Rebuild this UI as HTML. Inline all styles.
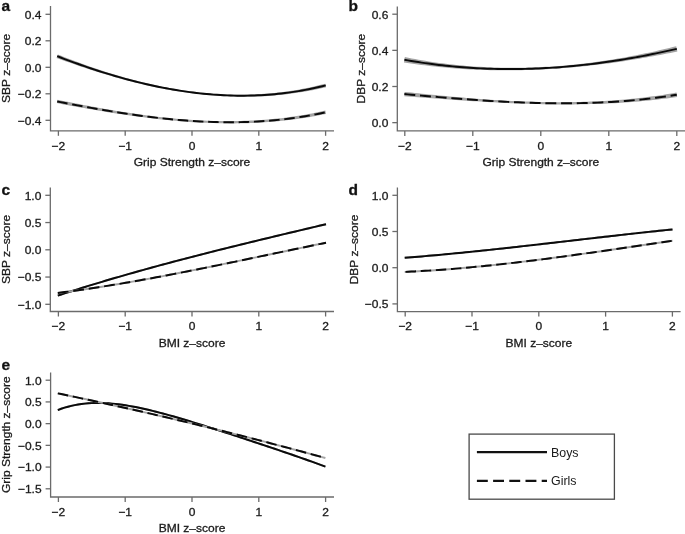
<!DOCTYPE html>
<html><head><meta charset="utf-8"><style>
html,body{margin:0;padding:0;background:#fff;}
body{width:685px;height:534px;overflow:hidden;}
svg{display:block;filter:blur(0.3px);}
text{font-family:"Liberation Sans", sans-serif;stroke:#1a1a1a;stroke-width:0.3px;}
</style></head><body>
<svg width="685" height="534" viewBox="0 0 685 534">
<path d="M50.50,6.00 V130.80 H334.00" fill="none" stroke="#6b6b6b" stroke-width="1.3"/>
<line x1="45.50" y1="14.30" x2="50.50" y2="14.30" stroke="#6b6b6b" stroke-width="1.3"/>
<text x="0" y="0" font-size="11.40" text-anchor="end" font-weight="normal" fill="#1a1a1a" transform="translate(41.50 18.70) scale(1.0526 1)">0.4</text>
<line x1="45.50" y1="40.80" x2="50.50" y2="40.80" stroke="#6b6b6b" stroke-width="1.3"/>
<text x="0" y="0" font-size="11.40" text-anchor="end" font-weight="normal" fill="#1a1a1a" transform="translate(41.50 45.20) scale(1.0526 1)">0.2</text>
<line x1="45.50" y1="67.30" x2="50.50" y2="67.30" stroke="#6b6b6b" stroke-width="1.3"/>
<text x="0" y="0" font-size="11.40" text-anchor="end" font-weight="normal" fill="#1a1a1a" transform="translate(41.50 71.70) scale(1.0526 1)">0.0</text>
<line x1="45.50" y1="93.80" x2="50.50" y2="93.80" stroke="#6b6b6b" stroke-width="1.3"/>
<text x="0" y="0" font-size="11.40" text-anchor="end" font-weight="normal" fill="#1a1a1a" transform="translate(41.50 98.20) scale(1.0526 1)">−0.2</text>
<line x1="45.50" y1="120.30" x2="50.50" y2="120.30" stroke="#6b6b6b" stroke-width="1.3"/>
<text x="0" y="0" font-size="11.40" text-anchor="end" font-weight="normal" fill="#1a1a1a" transform="translate(41.50 124.70) scale(1.0526 1)">−0.4</text>
<line x1="58.40" y1="130.80" x2="58.40" y2="135.80" stroke="#6b6b6b" stroke-width="1.3"/>
<text x="0" y="0" font-size="11.40" text-anchor="middle" font-weight="normal" fill="#1a1a1a" transform="translate(58.40 149.60) scale(1.0526 1)">−2</text>
<line x1="125.20" y1="130.80" x2="125.20" y2="135.80" stroke="#6b6b6b" stroke-width="1.3"/>
<text x="0" y="0" font-size="11.40" text-anchor="middle" font-weight="normal" fill="#1a1a1a" transform="translate(125.20 149.60) scale(1.0526 1)">−1</text>
<line x1="192.00" y1="130.80" x2="192.00" y2="135.80" stroke="#6b6b6b" stroke-width="1.3"/>
<text x="0" y="0" font-size="11.40" text-anchor="middle" font-weight="normal" fill="#1a1a1a" transform="translate(192.00 149.60) scale(1.0526 1)">0</text>
<line x1="258.80" y1="130.80" x2="258.80" y2="135.80" stroke="#6b6b6b" stroke-width="1.3"/>
<text x="0" y="0" font-size="11.40" text-anchor="middle" font-weight="normal" fill="#1a1a1a" transform="translate(258.80 149.60) scale(1.0526 1)">1</text>
<line x1="325.60" y1="130.80" x2="325.60" y2="135.80" stroke="#6b6b6b" stroke-width="1.3"/>
<text x="0" y="0" font-size="11.40" text-anchor="middle" font-weight="normal" fill="#1a1a1a" transform="translate(325.60 149.60) scale(1.0526 1)">2</text>
<text x="0" y="0" font-size="11.40" text-anchor="middle" font-weight="normal" fill="#1a1a1a" transform="translate(192.00 165.80) scale(1.0526 1)">Grip Strength z–score</text>
<text x="0" y="0" font-size="11.40" text-anchor="middle" font-weight="normal" fill="#1a1a1a" transform="translate(10.30 68.40) rotate(-90) scale(1.0526 1)">SBP z–score</text>
<text x="0" y="0" font-size="14.73" text-anchor="start" font-weight="bold" fill="#111" transform="translate(1.50 10.70) scale(1.0526 1)">a</text>
<path d="M397.30,6.40 V130.90 H690.00" fill="none" stroke="#6b6b6b" stroke-width="1.3"/>
<line x1="392.30" y1="14.20" x2="397.30" y2="14.20" stroke="#6b6b6b" stroke-width="1.3"/>
<text x="0" y="0" font-size="11.40" text-anchor="end" font-weight="normal" fill="#1a1a1a" transform="translate(388.30 18.60) scale(1.0526 1)">0.6</text>
<line x1="392.30" y1="50.35" x2="397.30" y2="50.35" stroke="#6b6b6b" stroke-width="1.3"/>
<text x="0" y="0" font-size="11.40" text-anchor="end" font-weight="normal" fill="#1a1a1a" transform="translate(388.30 54.75) scale(1.0526 1)">0.4</text>
<line x1="392.30" y1="86.50" x2="397.30" y2="86.50" stroke="#6b6b6b" stroke-width="1.3"/>
<text x="0" y="0" font-size="11.40" text-anchor="end" font-weight="normal" fill="#1a1a1a" transform="translate(388.30 90.90) scale(1.0526 1)">0.2</text>
<line x1="392.30" y1="122.65" x2="397.30" y2="122.65" stroke="#6b6b6b" stroke-width="1.3"/>
<text x="0" y="0" font-size="11.40" text-anchor="end" font-weight="normal" fill="#1a1a1a" transform="translate(388.30 127.05) scale(1.0526 1)">0.0</text>
<line x1="404.80" y1="130.90" x2="404.80" y2="135.90" stroke="#6b6b6b" stroke-width="1.3"/>
<text x="0" y="0" font-size="11.40" text-anchor="middle" font-weight="normal" fill="#1a1a1a" transform="translate(404.80 149.70) scale(1.0526 1)">−2</text>
<line x1="472.80" y1="130.90" x2="472.80" y2="135.90" stroke="#6b6b6b" stroke-width="1.3"/>
<text x="0" y="0" font-size="11.40" text-anchor="middle" font-weight="normal" fill="#1a1a1a" transform="translate(472.80 149.70) scale(1.0526 1)">−1</text>
<line x1="540.80" y1="130.90" x2="540.80" y2="135.90" stroke="#6b6b6b" stroke-width="1.3"/>
<text x="0" y="0" font-size="11.40" text-anchor="middle" font-weight="normal" fill="#1a1a1a" transform="translate(540.80 149.70) scale(1.0526 1)">0</text>
<line x1="608.80" y1="130.90" x2="608.80" y2="135.90" stroke="#6b6b6b" stroke-width="1.3"/>
<text x="0" y="0" font-size="11.40" text-anchor="middle" font-weight="normal" fill="#1a1a1a" transform="translate(608.80 149.70) scale(1.0526 1)">1</text>
<line x1="676.80" y1="130.90" x2="676.80" y2="135.90" stroke="#6b6b6b" stroke-width="1.3"/>
<text x="0" y="0" font-size="11.40" text-anchor="middle" font-weight="normal" fill="#1a1a1a" transform="translate(676.80 149.70) scale(1.0526 1)">2</text>
<text x="0" y="0" font-size="11.40" text-anchor="middle" font-weight="normal" fill="#1a1a1a" transform="translate(540.80 165.90) scale(1.0526 1)">Grip Strength z–score</text>
<text x="0" y="0" font-size="11.40" text-anchor="middle" font-weight="normal" fill="#1a1a1a" transform="translate(364.50 68.65) rotate(-90) scale(1.0526 1)">DBP z–score</text>
<text x="0" y="0" font-size="14.73" text-anchor="start" font-weight="bold" fill="#111" transform="translate(348.50 10.70) scale(1.0526 1)">b</text>
<path d="M50.30,187.40 V311.50 H334.00" fill="none" stroke="#6b6b6b" stroke-width="1.3"/>
<line x1="45.30" y1="195.30" x2="50.30" y2="195.30" stroke="#6b6b6b" stroke-width="1.3"/>
<text x="0" y="0" font-size="11.40" text-anchor="end" font-weight="normal" fill="#1a1a1a" transform="translate(41.30 199.70) scale(1.0526 1)">1.0</text>
<line x1="45.30" y1="222.55" x2="50.30" y2="222.55" stroke="#6b6b6b" stroke-width="1.3"/>
<text x="0" y="0" font-size="11.40" text-anchor="end" font-weight="normal" fill="#1a1a1a" transform="translate(41.30 226.95) scale(1.0526 1)">0.5</text>
<line x1="45.30" y1="249.80" x2="50.30" y2="249.80" stroke="#6b6b6b" stroke-width="1.3"/>
<text x="0" y="0" font-size="11.40" text-anchor="end" font-weight="normal" fill="#1a1a1a" transform="translate(41.30 254.20) scale(1.0526 1)">0.0</text>
<line x1="45.30" y1="277.05" x2="50.30" y2="277.05" stroke="#6b6b6b" stroke-width="1.3"/>
<text x="0" y="0" font-size="11.40" text-anchor="end" font-weight="normal" fill="#1a1a1a" transform="translate(41.30 281.45) scale(1.0526 1)">−0.5</text>
<line x1="45.30" y1="304.30" x2="50.30" y2="304.30" stroke="#6b6b6b" stroke-width="1.3"/>
<text x="0" y="0" font-size="11.40" text-anchor="end" font-weight="normal" fill="#1a1a1a" transform="translate(41.30 308.70) scale(1.0526 1)">−1.0</text>
<line x1="58.40" y1="311.50" x2="58.40" y2="316.50" stroke="#6b6b6b" stroke-width="1.3"/>
<text x="0" y="0" font-size="11.40" text-anchor="middle" font-weight="normal" fill="#1a1a1a" transform="translate(58.40 330.30) scale(1.0526 1)">−2</text>
<line x1="125.20" y1="311.50" x2="125.20" y2="316.50" stroke="#6b6b6b" stroke-width="1.3"/>
<text x="0" y="0" font-size="11.40" text-anchor="middle" font-weight="normal" fill="#1a1a1a" transform="translate(125.20 330.30) scale(1.0526 1)">−1</text>
<line x1="192.00" y1="311.50" x2="192.00" y2="316.50" stroke="#6b6b6b" stroke-width="1.3"/>
<text x="0" y="0" font-size="11.40" text-anchor="middle" font-weight="normal" fill="#1a1a1a" transform="translate(192.00 330.30) scale(1.0526 1)">0</text>
<line x1="258.80" y1="311.50" x2="258.80" y2="316.50" stroke="#6b6b6b" stroke-width="1.3"/>
<text x="0" y="0" font-size="11.40" text-anchor="middle" font-weight="normal" fill="#1a1a1a" transform="translate(258.80 330.30) scale(1.0526 1)">1</text>
<line x1="325.60" y1="311.50" x2="325.60" y2="316.50" stroke="#6b6b6b" stroke-width="1.3"/>
<text x="0" y="0" font-size="11.40" text-anchor="middle" font-weight="normal" fill="#1a1a1a" transform="translate(325.60 330.30) scale(1.0526 1)">2</text>
<text x="0" y="0" font-size="11.40" text-anchor="middle" font-weight="normal" fill="#1a1a1a" transform="translate(192.00 346.50) scale(1.0526 1)">BMI z–score</text>
<text x="0" y="0" font-size="11.40" text-anchor="middle" font-weight="normal" fill="#1a1a1a" transform="translate(10.30 249.45) rotate(-90) scale(1.0526 1)">SBP z–score</text>
<text x="0" y="0" font-size="14.73" text-anchor="start" font-weight="bold" fill="#111" transform="translate(1.50 194.50) scale(1.0526 1)">c</text>
<path d="M397.40,187.40 V311.60 H680.60" fill="none" stroke="#6b6b6b" stroke-width="1.3"/>
<line x1="392.40" y1="195.30" x2="397.40" y2="195.30" stroke="#6b6b6b" stroke-width="1.3"/>
<text x="0" y="0" font-size="11.40" text-anchor="end" font-weight="normal" fill="#1a1a1a" transform="translate(388.40 199.70) scale(1.0526 1)">1.0</text>
<line x1="392.40" y1="231.50" x2="397.40" y2="231.50" stroke="#6b6b6b" stroke-width="1.3"/>
<text x="0" y="0" font-size="11.40" text-anchor="end" font-weight="normal" fill="#1a1a1a" transform="translate(388.40 235.90) scale(1.0526 1)">0.5</text>
<line x1="392.40" y1="267.70" x2="397.40" y2="267.70" stroke="#6b6b6b" stroke-width="1.3"/>
<text x="0" y="0" font-size="11.40" text-anchor="end" font-weight="normal" fill="#1a1a1a" transform="translate(388.40 272.10) scale(1.0526 1)">0.0</text>
<line x1="392.40" y1="303.90" x2="397.40" y2="303.90" stroke="#6b6b6b" stroke-width="1.3"/>
<text x="0" y="0" font-size="11.40" text-anchor="end" font-weight="normal" fill="#1a1a1a" transform="translate(388.40 308.30) scale(1.0526 1)">−0.5</text>
<line x1="405.20" y1="311.60" x2="405.20" y2="316.60" stroke="#6b6b6b" stroke-width="1.3"/>
<text x="0" y="0" font-size="11.40" text-anchor="middle" font-weight="normal" fill="#1a1a1a" transform="translate(405.20 330.40) scale(1.0526 1)">−2</text>
<line x1="472.00" y1="311.60" x2="472.00" y2="316.60" stroke="#6b6b6b" stroke-width="1.3"/>
<text x="0" y="0" font-size="11.40" text-anchor="middle" font-weight="normal" fill="#1a1a1a" transform="translate(472.00 330.40) scale(1.0526 1)">−1</text>
<line x1="538.80" y1="311.60" x2="538.80" y2="316.60" stroke="#6b6b6b" stroke-width="1.3"/>
<text x="0" y="0" font-size="11.40" text-anchor="middle" font-weight="normal" fill="#1a1a1a" transform="translate(538.80 330.40) scale(1.0526 1)">0</text>
<line x1="605.60" y1="311.60" x2="605.60" y2="316.60" stroke="#6b6b6b" stroke-width="1.3"/>
<text x="0" y="0" font-size="11.40" text-anchor="middle" font-weight="normal" fill="#1a1a1a" transform="translate(605.60 330.40) scale(1.0526 1)">1</text>
<line x1="672.40" y1="311.60" x2="672.40" y2="316.60" stroke="#6b6b6b" stroke-width="1.3"/>
<text x="0" y="0" font-size="11.40" text-anchor="middle" font-weight="normal" fill="#1a1a1a" transform="translate(672.40 330.40) scale(1.0526 1)">2</text>
<text x="0" y="0" font-size="11.40" text-anchor="middle" font-weight="normal" fill="#1a1a1a" transform="translate(538.80 346.60) scale(1.0526 1)">BMI z–score</text>
<text x="0" y="0" font-size="11.40" text-anchor="middle" font-weight="normal" fill="#1a1a1a" transform="translate(358.40 249.50) rotate(-90) scale(1.0526 1)">DBP z–score</text>
<text x="0" y="0" font-size="14.73" text-anchor="start" font-weight="bold" fill="#111" transform="translate(348.50 194.50) scale(1.0526 1)">d</text>
<path d="M50.60,372.40 V497.00 H334.00" fill="none" stroke="#6b6b6b" stroke-width="1.3"/>
<line x1="45.60" y1="380.20" x2="50.60" y2="380.20" stroke="#6b6b6b" stroke-width="1.3"/>
<text x="0" y="0" font-size="11.40" text-anchor="end" font-weight="normal" fill="#1a1a1a" transform="translate(41.60 384.60) scale(1.0526 1)">1.0</text>
<line x1="45.60" y1="401.92" x2="50.60" y2="401.92" stroke="#6b6b6b" stroke-width="1.3"/>
<text x="0" y="0" font-size="11.40" text-anchor="end" font-weight="normal" fill="#1a1a1a" transform="translate(41.60 406.32) scale(1.0526 1)">0.5</text>
<line x1="45.60" y1="423.64" x2="50.60" y2="423.64" stroke="#6b6b6b" stroke-width="1.3"/>
<text x="0" y="0" font-size="11.40" text-anchor="end" font-weight="normal" fill="#1a1a1a" transform="translate(41.60 428.04) scale(1.0526 1)">0.0</text>
<line x1="45.60" y1="445.36" x2="50.60" y2="445.36" stroke="#6b6b6b" stroke-width="1.3"/>
<text x="0" y="0" font-size="11.40" text-anchor="end" font-weight="normal" fill="#1a1a1a" transform="translate(41.60 449.76) scale(1.0526 1)">−0.5</text>
<line x1="45.60" y1="467.08" x2="50.60" y2="467.08" stroke="#6b6b6b" stroke-width="1.3"/>
<text x="0" y="0" font-size="11.40" text-anchor="end" font-weight="normal" fill="#1a1a1a" transform="translate(41.60 471.48) scale(1.0526 1)">−1.0</text>
<line x1="45.60" y1="488.80" x2="50.60" y2="488.80" stroke="#6b6b6b" stroke-width="1.3"/>
<text x="0" y="0" font-size="11.40" text-anchor="end" font-weight="normal" fill="#1a1a1a" transform="translate(41.60 493.20) scale(1.0526 1)">−1.5</text>
<line x1="58.40" y1="497.00" x2="58.40" y2="502.00" stroke="#6b6b6b" stroke-width="1.3"/>
<text x="0" y="0" font-size="11.40" text-anchor="middle" font-weight="normal" fill="#1a1a1a" transform="translate(58.40 515.80) scale(1.0526 1)">−2</text>
<line x1="125.20" y1="497.00" x2="125.20" y2="502.00" stroke="#6b6b6b" stroke-width="1.3"/>
<text x="0" y="0" font-size="11.40" text-anchor="middle" font-weight="normal" fill="#1a1a1a" transform="translate(125.20 515.80) scale(1.0526 1)">−1</text>
<line x1="192.00" y1="497.00" x2="192.00" y2="502.00" stroke="#6b6b6b" stroke-width="1.3"/>
<text x="0" y="0" font-size="11.40" text-anchor="middle" font-weight="normal" fill="#1a1a1a" transform="translate(192.00 515.80) scale(1.0526 1)">0</text>
<line x1="258.80" y1="497.00" x2="258.80" y2="502.00" stroke="#6b6b6b" stroke-width="1.3"/>
<text x="0" y="0" font-size="11.40" text-anchor="middle" font-weight="normal" fill="#1a1a1a" transform="translate(258.80 515.80) scale(1.0526 1)">1</text>
<line x1="325.60" y1="497.00" x2="325.60" y2="502.00" stroke="#6b6b6b" stroke-width="1.3"/>
<text x="0" y="0" font-size="11.40" text-anchor="middle" font-weight="normal" fill="#1a1a1a" transform="translate(325.60 515.80) scale(1.0526 1)">2</text>
<text x="0" y="0" font-size="11.40" text-anchor="middle" font-weight="normal" fill="#1a1a1a" transform="translate(192.00 532.00) scale(1.0526 1)">BMI z–score</text>
<text x="0" y="0" font-size="11.40" text-anchor="middle" font-weight="normal" fill="#1a1a1a" transform="translate(10.30 434.70) rotate(-90) scale(1.0526 1)">Grip Strength z–score</text>
<text x="0" y="0" font-size="14.73" text-anchor="start" font-weight="bold" fill="#111" transform="translate(1.50 369.90) scale(1.0526 1)">e</text>
<path d="M56.55,57.88 L59.97,59.15 L63.39,60.40 L66.81,61.64 L70.23,62.86 L73.65,64.06 L77.07,65.25 L80.49,66.42 L83.91,67.57 L87.33,68.70 L90.74,69.82 L94.16,70.91 L97.57,71.99 L100.99,73.05 L104.40,74.09 L107.82,75.11 L111.23,76.11 L114.64,77.09 L118.06,78.05 L121.47,78.99 L124.88,79.90 L128.29,80.80 L131.70,81.67 L135.11,82.53 L138.52,83.36 L141.93,84.17 L145.34,84.95 L148.75,85.72 L152.16,86.46 L155.56,87.18 L158.97,87.87 L162.38,88.54 L165.79,89.18 L169.19,89.80 L172.60,90.40 L176.01,90.97 L179.41,91.52 L182.82,92.04 L186.23,92.53 L189.63,93.00 L193.04,93.44 L196.44,93.86 L199.85,94.25 L203.25,94.61 L206.66,94.94 L210.07,95.25 L213.47,95.53 L216.88,95.78 L220.28,96.00 L223.69,96.19 L227.10,96.35 L230.51,96.49 L233.91,96.59 L237.32,96.66 L240.73,96.71 L244.14,96.72 L247.55,96.70 L250.95,96.65 L254.36,96.57 L257.77,96.46 L261.19,96.32 L264.60,96.14 L268.01,95.93 L271.42,95.69 L274.84,95.42 L278.25,95.11 L281.66,94.77 L285.08,94.39 L288.50,93.98 L291.91,93.54 L295.33,93.06 L298.75,92.55 L302.17,92.00 L305.59,91.41 L309.02,90.79 L312.44,90.13 L315.86,89.44 L319.29,88.71 L322.72,87.94 L326.13,87.14 L325.27,83.64 L321.89,84.53 L318.52,85.37 L315.14,86.18 L311.77,86.95 L308.40,87.68 L305.02,88.37 L301.65,89.03 L298.27,89.64 L294.89,90.22 L291.51,90.77 L288.13,91.27 L284.75,91.74 L281.37,92.18 L277.99,92.57 L274.60,92.94 L271.22,93.26 L267.83,93.56 L264.45,93.81 L261.06,94.04 L257.68,94.23 L254.29,94.38 L250.90,94.50 L247.51,94.59 L244.12,94.64 L240.74,94.66 L237.35,94.65 L233.96,94.61 L230.57,94.53 L227.18,94.43 L223.78,94.29 L220.39,94.12 L217.00,93.91 L213.61,93.68 L210.22,93.42 L206.83,93.13 L203.44,92.80 L200.04,92.45 L196.65,92.07 L193.26,91.66 L189.87,91.22 L186.48,90.75 L183.09,90.25 L179.70,89.73 L176.30,89.17 L172.91,88.59 L169.52,87.99 L166.13,87.35 L162.74,86.69 L159.35,86.00 L155.96,85.29 L152.57,84.55 L149.18,83.79 L145.79,83.00 L142.41,82.18 L139.02,81.34 L135.63,80.48 L132.24,79.59 L128.86,78.68 L125.47,77.74 L122.08,76.78 L118.70,75.80 L115.31,74.80 L111.93,73.77 L108.54,72.72 L105.16,71.65 L101.78,70.56 L98.39,69.45 L95.01,68.31 L91.63,67.16 L88.25,65.98 L84.87,64.79 L81.49,63.57 L78.11,62.33 L74.73,61.08 L71.36,59.81 L67.98,58.51 L64.60,57.20 L61.23,55.87 L57.85,54.52Z" fill="#a4a4a4" stroke="none"/>
<path d="M57.20,56.20 L60.60,57.51 L64.00,58.80 L67.40,60.08 L70.79,61.33 L74.19,62.57 L77.59,63.79 L80.99,64.99 L84.39,66.18 L87.79,67.34 L91.19,68.49 L94.59,69.61 L97.98,70.72 L101.38,71.81 L104.78,72.87 L108.18,73.92 L111.58,74.94 L114.98,75.94 L118.38,76.93 L121.78,77.89 L125.17,78.82 L128.57,79.74 L131.97,80.63 L135.37,81.50 L138.77,82.35 L142.17,83.17 L145.57,83.98 L148.97,84.75 L152.36,85.50 L155.76,86.23 L159.16,86.94 L162.56,87.61 L165.96,88.27 L169.36,88.90 L172.76,89.50 L176.16,90.07 L179.55,90.62 L182.95,91.14 L186.35,91.64 L189.75,92.11 L193.15,92.55 L196.55,92.96 L199.95,93.35 L203.35,93.71 L206.74,94.03 L210.14,94.33 L213.54,94.60 L216.94,94.84 L220.34,95.06 L223.74,95.24 L227.14,95.39 L230.54,95.51 L233.93,95.60 L237.33,95.66 L240.73,95.69 L244.13,95.68 L247.53,95.65 L250.93,95.58 L254.33,95.48 L257.73,95.34 L261.12,95.18 L264.52,94.98 L267.92,94.75 L271.32,94.48 L274.72,94.18 L278.12,93.84 L281.52,93.47 L284.92,93.07 L288.31,92.63 L291.71,92.15 L295.11,91.64 L298.51,91.10 L301.91,90.51 L305.31,89.89 L308.71,89.24 L312.11,88.54 L315.50,87.81 L318.90,87.04 L322.30,86.23 L325.70,85.39" fill="none" stroke="#0a0a0a" stroke-width="1.95" stroke-linecap="butt"/>
<path d="M56.87,103.10 L60.28,103.74 L63.68,104.38 L67.09,105.01 L70.50,105.64 L73.90,106.26 L77.31,106.88 L80.72,107.49 L84.12,108.10 L87.53,108.70 L90.93,109.29 L94.34,109.87 L97.75,110.45 L101.15,111.02 L104.56,111.58 L107.96,112.13 L111.37,112.68 L114.77,113.21 L118.18,113.73 L121.58,114.25 L124.99,114.75 L128.39,115.24 L131.80,115.73 L135.20,116.20 L138.61,116.66 L142.01,117.10 L145.42,117.54 L148.82,117.96 L152.23,118.37 L155.63,118.76 L159.04,119.15 L162.44,119.51 L165.84,119.87 L169.25,120.21 L172.65,120.53 L176.06,120.84 L179.46,121.13 L182.87,121.41 L186.27,121.67 L189.67,121.91 L193.08,122.13 L196.48,122.34 L199.89,122.53 L203.29,122.70 L206.70,122.86 L210.10,122.99 L213.51,123.11 L216.91,123.21 L220.32,123.28 L223.73,123.34 L227.13,123.37 L230.54,123.39 L233.94,123.38 L237.35,123.35 L240.76,123.30 L244.16,123.23 L247.57,123.14 L250.98,123.02 L254.39,122.88 L257.80,122.71 L261.20,122.52 L264.61,122.31 L268.02,122.07 L271.43,121.81 L274.84,121.52 L278.25,121.20 L281.67,120.86 L285.08,120.50 L288.49,120.10 L291.90,119.68 L295.32,119.23 L298.73,118.76 L302.15,118.25 L305.56,117.72 L308.98,117.16 L312.39,116.57 L315.81,115.95 L319.23,115.30 L322.65,114.62 L326.06,113.91 L325.34,110.58 L321.95,111.35 L318.58,112.08 L315.20,112.78 L311.82,113.45 L308.44,114.09 L305.05,114.70 L301.67,115.28 L298.29,115.83 L294.91,116.35 L291.52,116.84 L288.14,117.30 L284.75,117.73 L281.37,118.14 L277.98,118.52 L274.59,118.87 L271.21,119.19 L267.82,119.49 L264.43,119.76 L261.04,120.00 L257.66,120.22 L254.27,120.42 L250.88,120.58 L247.49,120.73 L244.10,120.85 L240.71,120.94 L237.32,121.01 L233.92,121.06 L230.53,121.09 L227.14,121.09 L223.75,121.07 L220.36,121.03 L216.97,120.96 L213.57,120.88 L210.18,120.77 L206.79,120.64 L203.40,120.50 L200.00,120.33 L196.61,120.14 L193.22,119.94 L189.83,119.71 L186.43,119.47 L183.04,119.21 L179.65,118.93 L176.25,118.63 L172.86,118.32 L169.47,117.98 L166.07,117.64 L162.68,117.27 L159.29,116.89 L155.90,116.49 L152.50,116.08 L149.11,115.66 L145.72,115.22 L142.32,114.76 L138.93,114.29 L135.54,113.81 L132.15,113.32 L128.75,112.81 L125.36,112.29 L121.97,111.75 L118.58,111.21 L115.18,110.65 L111.79,110.08 L108.40,109.51 L105.01,108.92 L101.62,108.32 L98.22,107.71 L94.83,107.09 L91.44,106.47 L88.05,105.83 L84.66,105.18 L81.27,104.53 L77.88,103.87 L74.48,103.20 L71.09,102.53 L67.70,101.85 L64.31,101.16 L60.92,100.47 L57.53,99.77Z" fill="#a4a4a4" stroke="none"/>
<path d="M57.20,101.43 L60.60,102.10 L64.00,102.77 L67.40,103.43 L70.79,104.09 L74.19,104.73 L77.59,105.38 L80.99,106.01 L84.39,106.64 L87.79,107.26 L91.19,107.88 L94.59,108.48 L97.98,109.08 L101.38,109.67 L104.78,110.25 L108.18,110.82 L111.58,111.38 L114.98,111.93 L118.38,112.47 L121.78,113.00 L125.17,113.52 L128.57,114.03 L131.97,114.52 L135.37,115.00 L138.77,115.47 L142.17,115.93 L145.57,116.38 L148.97,116.81 L152.36,117.23 L155.76,117.63 L159.16,118.02 L162.56,118.39 L165.96,118.75 L169.36,119.09 L172.76,119.42 L176.16,119.73 L179.55,120.03 L182.95,120.31 L186.35,120.57 L189.75,120.81 L193.15,121.04 L196.55,121.24 L199.95,121.43 L203.35,121.60 L206.74,121.75 L210.14,121.88 L213.54,121.99 L216.94,122.08 L220.34,122.15 L223.74,122.20 L227.14,122.23 L230.54,122.24 L233.93,122.22 L237.33,122.18 L240.73,122.12 L244.13,122.04 L247.53,121.93 L250.93,121.80 L254.33,121.65 L257.73,121.47 L261.12,121.26 L264.52,121.03 L267.92,120.78 L271.32,120.50 L274.72,120.19 L278.12,119.86 L281.52,119.50 L284.92,119.12 L288.31,118.70 L291.71,118.26 L295.11,117.79 L298.51,117.29 L301.91,116.77 L305.31,116.21 L308.71,115.63 L312.11,115.01 L315.50,114.37 L318.90,113.69 L322.30,112.98 L325.70,112.25" fill="none" stroke="#0a0a0a" stroke-width="1.95" stroke-linecap="butt" stroke-dasharray="10.5,4.75" stroke-dashoffset="0"/>
<path d="M403.93,62.39 L407.39,62.93 L410.87,63.46 L414.35,63.96 L417.82,64.44 L421.29,64.91 L424.76,65.35 L428.23,65.78 L431.70,66.18 L435.17,66.57 L438.64,66.93 L442.11,67.28 L445.57,67.61 L449.04,67.92 L452.50,68.21 L455.96,68.48 L459.43,68.73 L462.89,68.96 L466.35,69.18 L469.81,69.38 L473.27,69.55 L476.73,69.71 L480.19,69.86 L483.64,69.98 L487.10,70.09 L490.56,70.18 L494.02,70.25 L497.47,70.30 L500.93,70.34 L504.38,70.35 L507.84,70.36 L511.29,70.34 L514.75,70.31 L518.20,70.26 L521.66,70.19 L525.11,70.11 L528.57,70.01 L532.02,69.89 L535.48,69.76 L538.93,69.61 L542.38,69.45 L545.84,69.27 L549.29,69.07 L552.75,68.86 L556.20,68.63 L559.66,68.38 L563.11,68.12 L566.57,67.85 L570.02,67.56 L573.48,67.25 L576.94,66.93 L580.39,66.60 L583.85,66.25 L587.31,65.88 L590.76,65.50 L594.22,65.10 L597.68,64.69 L601.14,64.27 L604.60,63.83 L608.06,63.38 L611.52,62.91 L614.98,62.43 L618.44,61.94 L621.91,61.43 L625.37,60.90 L628.83,60.37 L632.30,59.82 L635.76,59.25 L639.23,58.68 L642.70,58.09 L646.16,57.48 L649.63,56.87 L653.10,56.24 L656.57,55.60 L660.04,54.94 L663.51,54.27 L666.98,53.59 L670.46,52.90 L673.93,52.20 L677.40,51.48 L676.20,46.22 L672.77,47.08 L669.35,47.92 L665.93,48.75 L662.50,49.56 L659.08,50.35 L655.65,51.13 L652.23,51.90 L648.80,52.64 L645.37,53.37 L641.94,54.09 L638.51,54.78 L635.08,55.46 L631.65,56.12 L628.22,56.77 L624.79,57.40 L621.35,58.01 L617.92,58.60 L614.49,59.18 L611.05,59.74 L607.62,60.28 L604.18,60.80 L600.74,61.31 L597.31,61.80 L593.87,62.26 L590.43,62.71 L586.99,63.15 L583.55,63.56 L580.11,63.96 L576.67,64.33 L573.23,64.69 L569.79,65.03 L566.35,65.35 L562.91,65.65 L559.47,65.93 L556.03,66.20 L552.59,66.44 L549.15,66.66 L545.71,66.87 L542.26,67.05 L538.82,67.21 L535.38,67.36 L531.94,67.48 L528.50,67.59 L525.05,67.67 L521.61,67.73 L518.17,67.78 L514.73,67.80 L511.29,67.80 L507.85,67.78 L504.41,67.74 L500.97,67.68 L497.53,67.60 L494.09,67.50 L490.65,67.37 L487.21,67.23 L483.77,67.06 L480.33,66.87 L476.89,66.66 L473.46,66.43 L470.02,66.17 L466.58,65.90 L463.15,65.60 L459.71,65.28 L456.28,64.94 L452.85,64.57 L449.41,64.19 L445.98,63.78 L442.55,63.35 L439.12,62.89 L435.69,62.41 L432.27,61.91 L428.84,61.39 L425.41,60.84 L421.99,60.27 L418.57,59.68 L415.14,59.06 L411.72,58.42 L408.30,57.76 L404.87,57.07Z" fill="#a4a4a4" stroke="none"/>
<path d="M404.40,59.73 L407.85,60.35 L411.30,60.94 L414.74,61.51 L418.19,62.06 L421.64,62.59 L425.09,63.10 L428.54,63.58 L431.98,64.05 L435.43,64.49 L438.88,64.91 L442.33,65.31 L445.78,65.69 L449.23,66.05 L452.67,66.39 L456.12,66.71 L459.57,67.01 L463.02,67.28 L466.47,67.54 L469.91,67.78 L473.36,67.99 L476.81,68.19 L480.26,68.36 L483.71,68.52 L487.15,68.66 L490.60,68.77 L494.05,68.87 L497.50,68.95 L500.95,69.01 L504.39,69.05 L507.84,69.07 L511.29,69.07 L514.74,69.05 L518.19,69.02 L521.64,68.96 L525.08,68.89 L528.53,68.80 L531.98,68.69 L535.43,68.56 L538.88,68.41 L542.32,68.25 L545.77,68.07 L549.22,67.87 L552.67,67.65 L556.12,67.41 L559.56,67.16 L563.01,66.89 L566.46,66.60 L569.91,66.29 L573.36,65.97 L576.81,65.63 L580.25,65.28 L583.70,64.90 L587.15,64.51 L590.60,64.11 L594.05,63.68 L597.49,63.24 L600.94,62.79 L604.39,62.32 L607.84,61.83 L611.29,61.33 L614.73,60.81 L618.18,60.27 L621.63,59.72 L625.08,59.15 L628.53,58.57 L631.97,57.97 L635.42,57.36 L638.87,56.73 L642.32,56.09 L645.77,55.43 L649.22,54.76 L652.66,54.07 L656.11,53.36 L659.56,52.65 L663.01,51.92 L666.46,51.17 L669.90,50.41 L673.35,49.64 L676.80,48.85" fill="none" stroke="#0a0a0a" stroke-width="1.95" stroke-linecap="butt"/>
<path d="M404.20,96.28 L407.66,96.53 L411.11,96.79 L414.56,97.05 L418.02,97.30 L421.47,97.56 L424.92,97.81 L428.38,98.07 L431.83,98.32 L435.28,98.57 L438.74,98.82 L442.19,99.07 L445.64,99.31 L449.10,99.56 L452.55,99.80 L456.00,100.03 L459.46,100.27 L462.91,100.50 L466.36,100.72 L469.81,100.94 L473.27,101.16 L476.72,101.37 L480.17,101.58 L483.62,101.78 L487.07,101.98 L490.53,102.17 L493.98,102.36 L497.43,102.54 L500.88,102.71 L504.33,102.88 L507.79,103.04 L511.24,103.19 L514.69,103.34 L518.14,103.47 L521.59,103.60 L525.04,103.72 L528.50,103.84 L531.95,103.94 L535.40,104.03 L538.85,104.12 L542.30,104.19 L545.75,104.26 L549.21,104.32 L552.66,104.36 L556.11,104.40 L559.56,104.42 L563.01,104.44 L566.47,104.44 L569.92,104.43 L573.37,104.41 L576.82,104.37 L580.28,104.33 L583.73,104.27 L587.18,104.20 L590.64,104.11 L594.09,104.01 L597.55,103.90 L601.00,103.77 L604.46,103.63 L607.91,103.48 L611.37,103.31 L614.83,103.13 L618.28,102.93 L621.74,102.71 L625.20,102.48 L628.66,102.23 L632.12,101.97 L635.58,101.69 L639.04,101.39 L642.50,101.08 L645.96,100.75 L649.42,100.40 L652.89,100.03 L656.35,99.65 L659.82,99.24 L663.28,98.82 L666.75,98.38 L670.22,97.92 L673.68,97.44 L677.15,96.94 L676.45,92.59 L673.02,93.20 L669.59,93.78 L666.16,94.34 L662.73,94.88 L659.30,95.40 L655.87,95.89 L652.44,96.37 L649.01,96.82 L645.57,97.26 L642.14,97.67 L638.70,98.06 L635.27,98.44 L631.83,98.79 L628.40,99.13 L624.96,99.44 L621.52,99.74 L618.08,100.02 L614.64,100.28 L611.20,100.52 L607.76,100.75 L604.32,100.95 L600.88,101.14 L597.44,101.32 L594.00,101.47 L590.56,101.62 L587.11,101.74 L583.67,101.85 L580.23,101.94 L576.79,102.02 L573.34,102.08 L569.90,102.13 L566.46,102.16 L563.01,102.18 L559.57,102.18 L556.12,102.17 L552.68,102.15 L549.24,102.11 L545.79,102.06 L542.35,101.99 L538.90,101.92 L535.46,101.83 L532.01,101.73 L528.57,101.62 L525.12,101.50 L521.68,101.36 L518.23,101.22 L514.79,101.06 L511.34,100.89 L507.90,100.71 L504.46,100.53 L501.01,100.33 L497.57,100.12 L494.12,99.91 L490.68,99.68 L487.23,99.45 L483.79,99.21 L480.35,98.96 L476.90,98.70 L473.46,98.43 L470.01,98.16 L466.57,97.88 L463.13,97.59 L459.68,97.30 L456.24,97.00 L452.80,96.69 L449.35,96.38 L445.91,96.06 L442.47,95.73 L439.02,95.41 L435.58,95.07 L432.14,94.73 L428.70,94.39 L425.25,94.05 L421.81,93.70 L418.37,93.34 L414.93,92.98 L411.48,92.62 L408.04,92.26 L404.60,91.90Z" fill="#a4a4a4" stroke="none"/>
<path d="M404.40,94.09 L407.85,94.40 L411.30,94.71 L414.74,95.02 L418.19,95.32 L421.64,95.63 L425.09,95.93 L428.54,96.23 L431.98,96.53 L435.43,96.82 L438.88,97.11 L442.33,97.40 L445.78,97.69 L449.23,97.97 L452.67,98.24 L456.12,98.51 L459.57,98.78 L463.02,99.04 L466.47,99.30 L469.91,99.55 L473.36,99.80 L476.81,100.04 L480.26,100.27 L483.71,100.50 L487.15,100.72 L490.60,100.93 L494.05,101.13 L497.50,101.33 L500.95,101.52 L504.39,101.70 L507.84,101.88 L511.29,102.04 L514.74,102.20 L518.19,102.34 L521.64,102.48 L525.08,102.61 L528.53,102.73 L531.98,102.84 L535.43,102.93 L538.88,103.02 L542.32,103.09 L545.77,103.16 L549.22,103.21 L552.67,103.25 L556.12,103.28 L559.56,103.30 L563.01,103.31 L566.46,103.30 L569.91,103.28 L573.36,103.24 L576.81,103.19 L580.25,103.13 L583.70,103.06 L587.15,102.97 L590.60,102.86 L594.05,102.74 L597.49,102.61 L600.94,102.46 L604.39,102.29 L607.84,102.11 L611.29,101.92 L614.73,101.70 L618.18,101.47 L621.63,101.22 L625.08,100.96 L628.53,100.68 L631.97,100.38 L635.42,100.06 L638.87,99.73 L642.32,99.37 L645.77,99.00 L649.22,98.61 L652.66,98.20 L656.11,97.77 L659.56,97.32 L663.01,96.85 L666.46,96.36 L669.90,95.85 L673.35,95.32 L676.80,94.77" fill="none" stroke="#0a0a0a" stroke-width="1.95" stroke-linecap="butt" stroke-dasharray="10.9,4.8" stroke-dashoffset="0"/>
<path d="M58.11,296.52 L61.50,295.42 L64.89,294.32 L68.29,293.23 L71.68,292.15 L75.07,291.08 L78.46,290.01 L81.86,288.95 L85.25,287.90 L88.64,286.86 L92.03,285.82 L95.43,284.79 L98.82,283.76 L102.21,282.74 L105.61,281.73 L109.00,280.73 L112.39,279.73 L115.78,278.73 L119.18,277.75 L122.57,276.77 L125.96,275.79 L129.36,274.82 L132.75,273.86 L136.14,272.90 L139.54,271.95 L142.93,271.00 L146.32,270.06 L149.72,269.12 L153.11,268.19 L156.50,267.27 L159.90,266.34 L163.29,265.43 L166.68,264.52 L170.08,263.61 L173.47,262.71 L176.87,261.81 L180.26,260.91 L183.65,260.02 L187.05,259.14 L190.44,258.26 L193.83,257.38 L197.23,256.51 L200.62,255.64 L204.02,254.77 L207.41,253.91 L210.81,253.05 L214.20,252.19 L217.59,251.34 L220.99,250.49 L224.38,249.64 L227.78,248.80 L231.17,247.96 L234.57,247.12 L237.96,246.28 L241.35,245.45 L244.75,244.62 L248.14,243.79 L251.54,242.97 L254.93,242.14 L258.33,241.32 L261.72,240.50 L265.12,239.68 L268.51,238.87 L271.91,238.05 L275.30,237.24 L278.70,236.43 L282.09,235.62 L285.49,234.81 L288.88,234.00 L292.28,233.20 L295.67,232.39 L299.07,231.59 L302.46,230.78 L305.86,229.98 L309.25,229.18 L312.65,228.38 L316.04,227.57 L319.44,226.77 L322.83,225.97 L326.23,225.17 L325.77,223.23 L322.38,224.03 L318.98,224.84 L315.59,225.64 L312.19,226.45 L308.80,227.25 L305.40,228.06 L302.01,228.87 L298.61,229.68 L295.22,230.48 L291.82,231.29 L288.43,232.10 L285.03,232.91 L281.64,233.73 L278.24,234.54 L274.85,235.35 L271.46,236.17 L268.06,236.99 L264.67,237.81 L261.27,238.63 L257.87,239.45 L254.48,240.27 L251.08,241.10 L247.69,241.93 L244.29,242.76 L240.90,243.59 L237.50,244.43 L234.11,245.26 L230.71,246.10 L227.32,246.95 L223.92,247.79 L220.53,248.64 L217.13,249.49 L213.73,250.34 L210.34,251.20 L206.94,252.06 L203.55,252.93 L200.15,253.79 L196.76,254.66 L193.36,255.54 L189.96,256.42 L186.57,257.30 L183.17,258.19 L179.78,259.08 L176.38,259.97 L172.98,260.87 L169.59,261.77 L166.19,262.68 L162.80,263.59 L159.40,264.51 L156.00,265.43 L152.61,266.35 L149.21,267.28 L145.81,268.22 L142.42,269.16 L139.02,270.10 L135.62,271.06 L132.23,272.01 L128.83,272.97 L125.43,273.94 L122.04,274.91 L118.64,275.89 L115.24,276.88 L111.85,277.87 L108.45,278.87 L105.05,279.87 L101.66,280.88 L98.26,281.90 L94.86,282.92 L91.46,283.95 L88.07,284.98 L84.67,286.02 L81.27,287.07 L77.88,288.13 L74.48,289.19 L71.08,290.26 L67.68,291.34 L64.29,292.43 L60.89,293.52 L57.49,294.62Z" fill="#a4a4a4" stroke="none"/>
<path d="M57.80,295.57 L61.19,294.47 L64.59,293.37 L67.98,292.29 L71.38,291.21 L74.77,290.14 L78.17,289.07 L81.56,288.01 L84.96,286.96 L88.35,285.92 L91.75,284.88 L95.14,283.85 L98.54,282.83 L101.93,281.81 L105.33,280.80 L108.72,279.80 L112.12,278.80 L115.51,277.81 L118.91,276.82 L122.30,275.84 L125.70,274.87 L129.09,273.90 L132.49,272.94 L135.88,271.98 L139.28,271.03 L142.67,270.08 L146.07,269.14 L149.46,268.20 L152.86,267.27 L156.25,266.35 L159.65,265.42 L163.04,264.51 L166.44,263.60 L169.83,262.69 L173.23,261.79 L176.62,260.89 L180.02,259.99 L183.41,259.10 L186.81,258.22 L190.20,257.34 L193.60,256.46 L196.99,255.59 L200.39,254.71 L203.78,253.85 L207.18,252.98 L210.57,252.12 L213.97,251.27 L217.36,250.41 L220.76,249.56 L224.15,248.72 L227.55,247.87 L230.94,247.03 L234.34,246.19 L237.73,245.35 L241.13,244.52 L244.52,243.69 L247.92,242.86 L251.31,242.03 L254.71,241.21 L258.10,240.38 L261.50,239.56 L264.89,238.74 L268.29,237.93 L271.68,237.11 L275.08,236.30 L278.47,235.48 L281.87,234.67 L285.26,233.86 L288.66,233.05 L292.05,232.24 L295.45,231.44 L298.84,230.63 L302.24,229.83 L305.63,229.02 L309.03,228.22 L312.42,227.41 L315.82,226.61 L319.21,225.81 L322.61,225.00 L326.00,224.20" fill="none" stroke="#0a0a0a" stroke-width="1.95" stroke-linecap="butt"/>
<path d="M57.93,293.95 L61.32,293.52 L64.72,293.08 L68.12,292.63 L71.51,292.16 L74.91,291.70 L78.31,291.22 L81.70,290.73 L85.10,290.24 L88.50,289.74 L91.89,289.23 L95.29,288.71 L98.69,288.19 L102.09,287.65 L105.48,287.11 L108.88,286.57 L112.27,286.02 L115.67,285.46 L119.07,284.89 L122.46,284.32 L125.86,283.74 L129.26,283.15 L132.65,282.56 L136.05,281.97 L139.45,281.36 L142.84,280.75 L146.24,280.14 L149.63,279.52 L153.03,278.90 L156.43,278.27 L159.82,277.64 L163.22,277.00 L166.62,276.35 L170.01,275.71 L173.41,275.06 L176.80,274.40 L180.20,273.74 L183.60,273.08 L186.99,272.41 L190.39,271.74 L193.78,271.07 L197.18,270.39 L200.57,269.71 L203.97,269.03 L207.37,268.34 L210.76,267.65 L214.16,266.96 L217.55,266.27 L220.95,265.57 L224.34,264.87 L227.74,264.18 L231.14,263.47 L234.53,262.77 L237.93,262.07 L241.32,261.36 L244.72,260.66 L248.11,259.95 L251.51,259.24 L254.90,258.53 L258.30,257.82 L261.69,257.11 L265.09,256.40 L268.48,255.69 L271.88,254.98 L275.27,254.27 L278.67,253.56 L282.07,252.85 L285.46,252.14 L288.86,251.43 L292.25,250.72 L295.65,250.02 L299.04,249.31 L302.44,248.61 L305.83,247.91 L309.23,247.21 L312.62,246.51 L316.02,245.81 L319.41,245.11 L322.80,244.42 L326.20,243.73 L325.80,241.77 L322.41,242.47 L319.01,243.17 L315.62,243.86 L312.22,244.57 L308.83,245.27 L305.43,245.98 L302.04,246.68 L298.64,247.39 L295.25,248.10 L291.85,248.81 L288.46,249.52 L285.06,250.23 L281.67,250.94 L278.27,251.66 L274.88,252.37 L271.48,253.08 L268.09,253.80 L264.69,254.51 L261.30,255.22 L257.90,255.94 L254.51,256.65 L251.11,257.36 L247.72,258.07 L244.33,258.78 L240.93,259.49 L237.54,260.20 L234.14,260.90 L230.75,261.61 L227.35,262.31 L223.96,263.01 L220.57,263.71 L217.17,264.40 L213.78,265.10 L210.38,265.79 L206.99,266.48 L203.59,267.16 L200.20,267.85 L196.81,268.53 L193.41,269.20 L190.02,269.88 L186.62,270.55 L183.23,271.21 L179.84,271.87 L176.44,272.53 L173.05,273.19 L169.65,273.84 L166.26,274.48 L162.87,275.13 L159.47,275.76 L156.08,276.39 L152.69,277.02 L149.29,277.64 L145.90,278.26 L142.50,278.87 L139.11,279.48 L135.72,280.08 L132.32,280.67 L128.93,281.26 L125.54,281.84 L122.14,282.42 L118.75,282.99 L115.36,283.55 L111.96,284.11 L108.57,284.65 L105.18,285.20 L101.78,285.73 L98.39,286.26 L95.00,286.78 L91.60,287.29 L88.21,287.80 L84.82,288.30 L81.42,288.78 L78.03,289.26 L74.64,289.74 L71.25,290.20 L67.85,290.66 L64.46,291.10 L61.07,291.54 L57.67,291.97Z" fill="#a4a4a4" stroke="none"/>
<path d="M57.80,292.96 L61.19,292.53 L64.59,292.09 L67.98,291.64 L71.38,291.18 L74.77,290.72 L78.17,290.24 L81.56,289.76 L84.96,289.27 L88.35,288.77 L91.75,288.26 L95.14,287.75 L98.54,287.22 L101.93,286.69 L105.33,286.16 L108.72,285.61 L112.12,285.06 L115.51,284.50 L118.91,283.94 L122.30,283.37 L125.70,282.79 L129.09,282.21 L132.49,281.62 L135.88,281.02 L139.28,280.42 L142.67,279.81 L146.07,279.20 L149.46,278.58 L152.86,277.96 L156.25,277.33 L159.65,276.70 L163.04,276.06 L166.44,275.42 L169.83,274.77 L173.23,274.12 L176.62,273.47 L180.02,272.81 L183.41,272.14 L186.81,271.48 L190.20,270.81 L193.60,270.13 L196.99,269.46 L200.39,268.78 L203.78,268.09 L207.18,267.41 L210.57,266.72 L213.97,266.03 L217.36,265.33 L220.76,264.64 L224.15,263.94 L227.55,263.24 L230.94,262.54 L234.34,261.84 L237.73,261.13 L241.13,260.43 L244.52,259.72 L247.92,259.01 L251.31,258.30 L254.71,257.59 L258.10,256.88 L261.50,256.17 L264.89,255.46 L268.29,254.74 L271.68,254.03 L275.08,253.32 L278.47,252.61 L281.87,251.90 L285.26,251.19 L288.66,250.48 L292.05,249.77 L295.45,249.06 L298.84,248.35 L302.24,247.65 L305.63,246.94 L309.03,246.24 L312.42,245.54 L315.82,244.84 L319.21,244.14 L322.61,243.44 L326.00,242.75" fill="none" stroke="#0a0a0a" stroke-width="1.95" stroke-linecap="butt" stroke-dasharray="10.8,4.8" stroke-dashoffset="0"/>
<path d="M404.78,258.79 L408.17,258.52 L411.56,258.25 L414.95,257.97 L418.34,257.69 L421.73,257.40 L425.12,257.11 L428.51,256.81 L431.91,256.51 L435.30,256.20 L438.69,255.89 L442.08,255.58 L445.47,255.26 L448.86,254.94 L452.25,254.62 L455.64,254.29 L459.03,253.96 L462.42,253.62 L465.81,253.28 L469.20,252.94 L472.60,252.59 L475.99,252.24 L479.38,251.89 L482.77,251.54 L486.16,251.18 L489.55,250.82 L492.94,250.46 L496.33,250.09 L499.72,249.72 L503.11,249.35 L506.50,248.98 L509.89,248.61 L513.28,248.23 L516.67,247.86 L520.06,247.48 L523.45,247.10 L526.84,246.71 L530.23,246.33 L533.62,245.95 L537.01,245.56 L540.40,245.17 L543.79,244.79 L547.18,244.40 L550.57,244.01 L553.96,243.62 L557.35,243.23 L560.74,242.84 L564.13,242.45 L567.52,242.06 L570.91,241.66 L574.30,241.27 L577.69,240.88 L581.08,240.49 L584.47,240.10 L587.86,239.71 L591.25,239.32 L594.64,238.93 L598.03,238.54 L601.42,238.16 L604.81,237.77 L608.20,237.38 L611.59,237.00 L614.98,236.62 L618.37,236.24 L621.76,235.86 L625.15,235.48 L628.54,235.10 L631.93,234.73 L635.32,234.35 L638.71,233.98 L642.10,233.61 L645.49,233.25 L648.88,232.88 L652.27,232.52 L655.65,232.16 L659.04,231.81 L662.43,231.45 L665.82,231.10 L669.21,230.75 L672.60,230.41 L672.40,228.42 L669.01,228.77 L665.62,229.12 L662.23,229.48 L658.84,229.84 L655.45,230.20 L652.06,230.56 L648.67,230.93 L645.28,231.29 L641.88,231.67 L638.49,232.04 L635.10,232.41 L631.71,232.79 L628.32,233.17 L624.93,233.55 L621.54,233.93 L618.15,234.31 L614.76,234.70 L611.37,235.08 L607.98,235.47 L604.59,235.86 L601.20,236.25 L597.81,236.64 L594.42,237.03 L591.03,237.42 L587.64,237.81 L584.25,238.20 L580.86,238.59 L577.47,238.99 L574.08,239.38 L570.69,239.77 L567.30,240.16 L563.91,240.56 L560.53,240.95 L557.14,241.34 L553.75,241.73 L550.36,242.12 L546.97,242.51 L543.58,242.90 L540.19,243.29 L536.80,243.67 L533.41,244.06 L530.02,244.44 L526.63,244.83 L523.24,245.21 L519.85,245.59 L516.46,245.97 L513.07,246.34 L509.68,246.72 L506.29,247.09 L502.90,247.46 L499.51,247.83 L496.12,248.19 L492.73,248.56 L489.35,248.92 L485.96,249.27 L482.57,249.63 L479.18,249.98 L475.79,250.33 L472.40,250.68 L469.01,251.02 L465.62,251.36 L462.23,251.70 L458.84,252.03 L455.45,252.36 L452.07,252.68 L448.68,253.01 L445.29,253.32 L441.90,253.64 L438.51,253.95 L435.12,254.25 L431.73,254.55 L428.34,254.85 L424.95,255.14 L421.57,255.43 L418.18,255.71 L414.79,255.99 L411.40,256.26 L408.01,256.53 L404.62,256.79Z" fill="#a4a4a4" stroke="none"/>
<path d="M404.70,257.79 L408.09,257.52 L411.48,257.25 L414.87,256.98 L418.26,256.70 L421.65,256.41 L425.04,256.12 L428.43,255.83 L431.82,255.53 L435.21,255.23 L438.60,254.92 L441.99,254.61 L445.38,254.29 L448.77,253.97 L452.16,253.65 L455.55,253.32 L458.94,252.99 L462.33,252.66 L465.72,252.32 L469.11,251.98 L472.50,251.63 L475.89,251.29 L479.28,250.94 L482.67,250.58 L486.06,250.23 L489.45,249.87 L492.84,249.51 L496.23,249.14 L499.62,248.77 L503.01,248.41 L506.40,248.04 L509.79,247.66 L513.18,247.29 L516.57,246.91 L519.96,246.53 L523.35,246.15 L526.74,245.77 L530.13,245.39 L533.52,245.00 L536.91,244.62 L540.29,244.23 L543.68,243.84 L547.07,243.45 L550.46,243.06 L553.85,242.67 L557.24,242.28 L560.63,241.89 L564.02,241.50 L567.41,241.11 L570.80,240.72 L574.19,240.33 L577.58,239.93 L580.97,239.54 L584.36,239.15 L587.75,238.76 L591.14,238.37 L594.53,237.98 L597.92,237.59 L601.31,237.20 L604.70,236.81 L608.09,236.43 L611.48,236.04 L614.87,235.66 L618.26,235.27 L621.65,234.89 L625.04,234.51 L628.43,234.13 L631.82,233.76 L635.21,233.38 L638.60,233.01 L641.99,232.64 L645.38,232.27 L648.77,231.90 L652.16,231.54 L655.55,231.18 L658.94,230.82 L662.33,230.46 L665.72,230.11 L669.11,229.76 L672.50,229.41" fill="none" stroke="#0a0a0a" stroke-width="1.95" stroke-linecap="butt"/>
<path d="M404.74,272.89 L408.14,272.74 L411.53,272.57 L414.92,272.40 L418.31,272.22 L421.71,272.02 L425.10,271.82 L428.49,271.61 L431.88,271.39 L435.28,271.16 L438.67,270.93 L442.06,270.68 L445.45,270.43 L448.84,270.16 L452.24,269.89 L455.63,269.62 L459.02,269.33 L462.41,269.04 L465.80,268.73 L469.20,268.43 L472.59,268.11 L475.98,267.79 L479.37,267.46 L482.76,267.12 L486.15,266.78 L489.55,266.43 L492.94,266.07 L496.33,265.71 L499.72,265.34 L503.11,264.97 L506.50,264.59 L509.89,264.20 L513.29,263.81 L516.68,263.41 L520.07,263.01 L523.46,262.60 L526.85,262.19 L530.24,261.78 L533.63,261.35 L537.02,260.93 L540.42,260.50 L543.81,260.06 L547.20,259.62 L550.59,259.18 L553.98,258.73 L557.37,258.28 L560.76,257.83 L564.15,257.37 L567.54,256.91 L570.93,256.45 L574.32,255.98 L577.72,255.51 L581.11,255.04 L584.50,254.56 L587.89,254.09 L591.28,253.61 L594.67,253.12 L598.06,252.64 L601.45,252.15 L604.84,251.67 L608.23,251.18 L611.62,250.69 L615.01,250.19 L618.40,249.70 L621.79,249.20 L625.18,248.71 L628.57,248.21 L631.96,247.72 L635.35,247.22 L638.74,246.72 L642.13,246.22 L645.52,245.73 L648.91,245.23 L652.30,244.73 L655.69,244.23 L659.08,243.74 L662.47,243.24 L665.86,242.74 L669.25,242.25 L672.64,241.76 L672.36,239.78 L668.97,240.28 L665.58,240.78 L662.19,241.28 L658.80,241.78 L655.41,242.28 L652.02,242.78 L648.63,243.28 L645.24,243.78 L641.85,244.29 L638.46,244.79 L635.07,245.29 L631.68,245.79 L628.29,246.29 L624.90,246.79 L621.51,247.29 L618.12,247.78 L614.73,248.28 L611.34,248.78 L607.95,249.27 L604.56,249.76 L601.18,250.25 L597.79,250.74 L594.40,251.23 L591.01,251.71 L587.62,252.19 L584.23,252.67 L580.84,253.15 L577.45,253.62 L574.06,254.09 L570.67,254.56 L567.29,255.02 L563.90,255.49 L560.51,255.94 L557.12,256.40 L553.73,256.85 L550.34,257.30 L546.95,257.74 L543.56,258.18 L540.17,258.61 L536.79,259.04 L533.40,259.47 L530.01,259.89 L526.62,260.31 L523.23,260.72 L519.84,261.12 L516.45,261.52 L513.07,261.92 L509.68,262.31 L506.29,262.69 L502.90,263.07 L499.51,263.44 L496.12,263.81 L492.74,264.17 L489.35,264.53 L485.96,264.87 L482.57,265.21 L479.18,265.55 L475.80,265.87 L472.41,266.19 L469.02,266.51 L465.63,266.81 L462.24,267.11 L458.86,267.40 L455.47,267.68 L452.08,267.96 L448.69,268.22 L445.31,268.48 L441.92,268.73 L438.53,268.97 L435.14,269.21 L431.75,269.43 L428.37,269.65 L424.98,269.85 L421.59,270.05 L418.21,270.24 L414.82,270.42 L411.43,270.59 L408.04,270.75 L404.66,270.90Z" fill="#a4a4a4" stroke="none"/>
<path d="M404.70,271.89 L408.09,271.74 L411.48,271.58 L414.87,271.41 L418.26,271.23 L421.65,271.04 L425.04,270.84 L428.43,270.63 L431.82,270.41 L435.21,270.19 L438.60,269.95 L441.99,269.71 L445.38,269.45 L448.77,269.19 L452.16,268.93 L455.55,268.65 L458.94,268.37 L462.33,268.07 L465.72,267.77 L469.11,267.47 L472.50,267.15 L475.89,266.83 L479.28,266.50 L482.67,266.17 L486.06,265.83 L489.45,265.48 L492.84,265.12 L496.23,264.76 L499.62,264.39 L503.01,264.02 L506.40,263.64 L509.79,263.26 L513.18,262.87 L516.57,262.47 L519.96,262.07 L523.35,261.66 L526.74,261.25 L530.13,260.83 L533.52,260.41 L536.91,259.99 L540.29,259.56 L543.68,259.12 L547.07,258.68 L550.46,258.24 L553.85,257.79 L557.24,257.34 L560.63,256.89 L564.02,256.43 L567.41,255.97 L570.80,255.50 L574.19,255.04 L577.58,254.57 L580.97,254.09 L584.36,253.62 L587.75,253.14 L591.14,252.66 L594.53,252.17 L597.92,251.69 L601.31,251.20 L604.70,250.71 L608.09,250.22 L611.48,249.73 L614.87,249.24 L618.26,248.74 L621.65,248.25 L625.04,247.75 L628.43,247.25 L631.82,246.75 L635.21,246.25 L638.60,245.75 L641.99,245.25 L645.38,244.75 L648.77,244.25 L652.16,243.76 L655.55,243.26 L658.94,242.76 L662.33,242.26 L665.72,241.76 L669.11,241.26 L672.50,240.77" fill="none" stroke="#0a0a0a" stroke-width="1.95" stroke-linecap="butt" stroke-dasharray="10.45,4.7" stroke-dashoffset="-0.9"/>
<path d="M58.15,410.97 L61.52,409.72 L64.87,408.62 L68.22,407.65 L71.57,406.80 L74.93,406.08 L78.28,405.47 L81.64,404.97 L85.00,404.57 L88.36,404.28 L91.72,404.07 L95.08,403.96 L98.44,403.93 L101.81,403.98 L105.18,404.11 L108.54,404.31 L111.91,404.57 L115.28,404.90 L118.65,405.29 L122.03,405.74 L125.40,406.24 L128.77,406.79 L132.15,407.38 L135.52,408.02 L138.90,408.70 L142.28,409.42 L145.66,410.18 L149.04,410.96 L152.42,411.78 L155.80,412.63 L159.18,413.50 L162.56,414.39 L165.94,415.31 L169.33,416.25 L172.71,417.20 L176.09,418.17 L179.48,419.16 L182.86,420.16 L186.24,421.18 L189.63,422.21 L193.01,423.24 L196.40,424.29 L199.78,425.34 L203.17,426.40 L206.56,427.47 L209.94,428.55 L213.33,429.63 L216.71,430.71 L220.10,431.80 L223.49,432.90 L226.87,433.99 L230.26,435.09 L233.65,436.20 L237.03,437.30 L240.42,438.41 L243.80,439.53 L247.19,440.64 L250.58,441.76 L253.96,442.88 L257.35,444.01 L260.74,445.13 L264.12,446.26 L267.51,447.40 L270.89,448.54 L274.28,449.68 L277.67,450.82 L281.05,451.97 L284.44,453.13 L287.82,454.29 L291.21,455.46 L294.59,456.63 L297.98,457.81 L301.36,459.00 L304.75,460.19 L308.13,461.40 L311.52,462.61 L314.90,463.82 L318.29,465.05 L321.67,466.29 L325.06,467.53 L325.74,465.65 L322.36,464.41 L318.96,463.18 L315.57,461.96 L312.18,460.74 L308.79,459.53 L305.40,458.33 L302.01,457.14 L298.62,455.96 L295.24,454.78 L291.85,453.61 L288.46,452.45 L285.07,451.29 L281.68,450.13 L278.29,448.98 L274.90,447.84 L271.51,446.70 L268.12,445.56 L264.73,444.43 L261.34,443.30 L257.96,442.18 L254.57,441.06 L251.18,439.94 L247.79,438.82 L244.40,437.71 L241.01,436.60 L237.63,435.49 L234.24,434.38 L230.85,433.28 L227.46,432.18 L224.07,431.08 L220.68,429.99 L217.30,428.90 L213.91,427.82 L210.52,426.74 L207.13,425.66 L203.74,424.59 L200.35,423.53 L196.96,422.47 L193.57,421.43 L190.18,420.39 L186.79,419.36 L183.40,418.34 L180.01,417.34 L176.62,416.35 L173.23,415.37 L169.84,414.41 L166.45,413.47 L163.05,412.55 L159.66,411.65 L156.27,410.78 L152.87,409.93 L149.48,409.11 L146.08,408.31 L142.69,407.55 L139.29,406.83 L135.89,406.14 L132.49,405.50 L129.10,404.89 L125.70,404.34 L122.29,403.83 L118.89,403.38 L115.49,402.98 L112.08,402.64 L108.68,402.37 L105.27,402.17 L101.86,402.04 L98.45,401.98 L95.04,402.01 L91.63,402.12 L88.21,402.32 L84.80,402.62 L81.38,403.02 L77.96,403.52 L74.54,404.14 L71.12,404.87 L67.70,405.73 L64.28,406.72 L60.86,407.84 L57.45,409.10Z" fill="#a4a4a4" stroke="none"/>
<path d="M57.80,410.04 L61.19,408.78 L64.57,407.67 L67.96,406.69 L71.35,405.84 L74.74,405.11 L78.12,404.50 L81.51,403.99 L84.90,403.60 L88.29,403.30 L91.67,403.10 L95.06,402.98 L98.45,402.96 L101.84,403.01 L105.22,403.14 L108.61,403.34 L112.00,403.61 L115.38,403.94 L118.77,404.33 L122.16,404.78 L125.55,405.29 L128.93,405.84 L132.32,406.44 L135.71,407.08 L139.10,407.77 L142.48,408.49 L145.87,409.25 L149.26,410.03 L152.65,410.85 L156.03,411.70 L159.42,412.57 L162.81,413.47 L166.19,414.39 L169.58,415.33 L172.97,416.29 L176.36,417.26 L179.74,418.25 L183.13,419.25 L186.52,420.27 L189.91,421.30 L193.29,422.33 L196.68,423.38 L200.07,424.44 L203.46,425.50 L206.84,426.57 L210.23,427.64 L213.62,428.72 L217.01,429.81 L220.39,430.90 L223.78,431.99 L227.17,433.09 L230.55,434.19 L233.94,435.29 L237.33,436.40 L240.72,437.51 L244.10,438.62 L247.49,439.73 L250.88,440.85 L254.27,441.97 L257.65,443.09 L261.04,444.22 L264.43,445.35 L267.82,446.48 L271.20,447.62 L274.59,448.76 L277.98,449.90 L281.36,451.05 L284.75,452.21 L288.14,453.37 L291.53,454.54 L294.91,455.71 L298.30,456.89 L301.69,458.07 L305.08,459.26 L308.46,460.46 L311.85,461.67 L315.24,462.89 L318.63,464.11 L322.01,465.35 L325.40,466.59" fill="none" stroke="#0a0a0a" stroke-width="1.95" stroke-linecap="butt"/>
<path d="M57.60,394.34 L60.98,395.04 L64.37,395.74 L67.76,396.45 L71.15,397.16 L74.53,397.87 L77.92,398.58 L81.31,399.30 L84.69,400.02 L88.08,400.75 L91.47,401.47 L94.85,402.20 L98.24,402.94 L101.63,403.67 L105.01,404.41 L108.40,405.15 L111.79,405.90 L115.18,406.65 L118.56,407.40 L121.95,408.15 L125.34,408.91 L128.72,409.67 L132.11,410.44 L135.50,411.20 L138.88,411.97 L142.27,412.74 L145.66,413.52 L149.04,414.30 L152.43,415.08 L155.82,415.87 L159.20,416.65 L162.59,417.45 L165.98,418.24 L169.36,419.04 L172.75,419.84 L176.14,420.64 L179.52,421.45 L182.91,422.26 L186.30,423.07 L189.68,423.88 L193.07,424.70 L196.46,425.52 L199.84,426.35 L203.23,427.18 L206.62,428.01 L210.00,428.84 L213.39,429.68 L216.78,430.52 L220.16,431.36 L223.55,432.21 L226.93,433.06 L230.32,433.91 L233.71,434.76 L237.09,435.62 L240.48,436.48 L243.87,437.35 L247.25,438.22 L250.64,439.09 L254.03,439.96 L257.41,440.84 L260.80,441.71 L264.18,442.60 L267.57,443.48 L270.96,444.37 L274.34,445.26 L277.73,446.16 L281.12,447.06 L284.50,447.96 L287.89,448.86 L291.27,449.77 L294.66,450.68 L298.05,451.59 L301.43,452.51 L304.82,453.43 L308.20,454.35 L311.59,455.27 L314.98,456.20 L318.36,457.13 L321.75,458.07 L325.13,459.01 L325.67,457.08 L322.28,456.14 L318.89,455.21 L315.50,454.29 L312.11,453.36 L308.72,452.44 L305.33,451.52 L301.95,450.61 L298.56,449.69 L295.17,448.79 L291.78,447.88 L288.39,446.97 L285.00,446.07 L281.61,445.18 L278.23,444.28 L274.84,443.39 L271.45,442.50 L268.06,441.61 L264.67,440.73 L261.28,439.85 L257.89,438.97 L254.51,438.10 L251.12,437.23 L247.73,436.36 L244.34,435.49 L240.95,434.63 L237.56,433.77 L234.18,432.91 L230.79,432.06 L227.40,431.21 L224.01,430.36 L220.62,429.51 L217.23,428.67 L213.85,427.83 L210.46,427.00 L207.07,426.16 L203.68,425.33 L200.29,424.50 L196.91,423.68 L193.52,422.86 L190.13,422.04 L186.74,421.22 L183.35,420.41 L179.96,419.60 L176.58,418.79 L173.19,417.99 L169.80,417.19 L166.41,416.39 L163.02,415.59 L159.64,414.80 L156.25,414.01 L152.86,413.22 L149.47,412.44 L146.08,411.66 L142.70,410.88 L139.31,410.10 L135.92,409.33 L132.53,408.56 L129.15,407.80 L125.76,407.03 L122.37,406.27 L118.98,405.52 L115.59,404.76 L112.21,404.01 L108.82,403.26 L105.43,402.51 L102.04,401.77 L98.66,401.03 L95.27,400.29 L91.88,399.56 L88.49,398.83 L85.10,398.10 L81.72,397.38 L78.33,396.65 L74.94,395.93 L71.55,395.22 L68.17,394.50 L64.78,393.79 L61.39,393.08 L58.00,392.38Z" fill="#a4a4a4" stroke="none"/>
<path d="M57.80,393.36 L61.19,394.06 L64.57,394.77 L67.96,395.48 L71.35,396.19 L74.74,396.90 L78.12,397.62 L81.51,398.34 L84.90,399.06 L88.29,399.79 L91.67,400.52 L95.06,401.25 L98.45,401.98 L101.84,402.72 L105.22,403.46 L108.61,404.21 L112.00,404.95 L115.38,405.70 L118.77,406.46 L122.16,407.21 L125.55,407.97 L128.93,408.73 L132.32,409.50 L135.71,410.27 L139.10,411.04 L142.48,411.81 L145.87,412.59 L149.26,413.37 L152.65,414.15 L156.03,414.94 L159.42,415.73 L162.81,416.52 L166.19,417.31 L169.58,418.11 L172.97,418.91 L176.36,419.72 L179.74,420.52 L183.13,421.33 L186.52,422.15 L189.91,422.96 L193.29,423.78 L196.68,424.60 L200.07,425.43 L203.46,426.25 L206.84,427.08 L210.23,427.92 L213.62,428.76 L217.01,429.59 L220.39,430.44 L223.78,431.28 L227.17,432.13 L230.55,432.98 L233.94,433.84 L237.33,434.70 L240.72,435.56 L244.10,436.42 L247.49,437.29 L250.88,438.16 L254.27,439.03 L257.65,439.90 L261.04,440.78 L264.43,441.66 L267.82,442.55 L271.20,443.44 L274.59,444.33 L277.98,445.22 L281.36,446.12 L284.75,447.02 L288.14,447.92 L291.53,448.82 L294.91,449.73 L298.30,450.64 L301.69,451.56 L305.08,452.47 L308.46,453.39 L311.85,454.32 L315.24,455.24 L318.63,456.17 L322.01,457.11 L325.40,458.04" fill="none" stroke="#0a0a0a" stroke-width="1.95" stroke-linecap="butt" stroke-dasharray="10.55,4.75" stroke-dashoffset="0"/>
<rect x="469.1" y="434.1" width="145.3" height="65.1" fill="none" stroke="#4a4a4a" stroke-width="1.3"/>
<line x1="476.9" y1="452.2" x2="547" y2="452.2" stroke="#111" stroke-width="2.3"/>
<line x1="476.9" y1="480.8" x2="547" y2="480.8" stroke="#111" stroke-width="2.3" stroke-dasharray="10.9,5.3"/>
<text x="551" y="457.2" font-size="12.4" fill="#1a1a1a" style="stroke:none">Boys</text>
<text x="551" y="485" font-size="12.4" fill="#1a1a1a" style="stroke:none">Girls</text>
</svg>
</body></html>
